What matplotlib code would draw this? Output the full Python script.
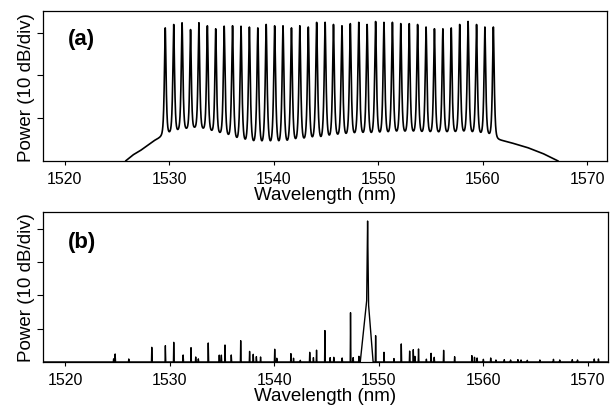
import numpy as np
import matplotlib
matplotlib.use("Agg")
import matplotlib.pyplot as plt

plt.rcParams['font.family'] = ['Liberation Sans', 'DejaVu Sans']

# (a) 40 WDM channels: centre wavelength (nm) and peak power (dB, 10 dB/div)
chan_wl = [1529.60, 1530.41, 1531.21, 1532.02, 1532.82, 1533.63, 1534.43, 1535.24,
           1536.04, 1536.85, 1537.65, 1538.46, 1539.26, 1540.07, 1540.87, 1541.68,
           1542.48, 1543.29, 1544.09, 1544.90, 1545.70, 1546.51, 1547.31, 1548.12,
           1548.92, 1549.73, 1550.53, 1551.34, 1552.14, 1552.95, 1553.75, 1554.56,
           1555.36, 1556.17, 1556.97, 1557.78, 1558.58, 1559.39, 1560.19, 1561.00]
chan_db = [31.1, 31.9, 32.3, 30.7, 32.3, 31.6, 30.9, 31.5, 31.6, 31.5,
           31.3, 31.1, 31.9, 31.6, 31.6, 31.1, 31.6, 31.3, 32.4, 32.4,
           31.9, 31.6, 32.1, 32.4, 31.9, 32.6, 32.4, 32.4, 32.1, 32.1,
           31.9, 31.3, 30.9, 30.9, 31.1, 31.9, 32.6, 31.9, 31.3, 31.3]

# (a) ASE floor under the channels
ase_wl = [1525.8, 1526.5, 1527.2, 1528.5, 1529.5, 1530.4, 1531.2, 1532.4, 1533.6,
          1534.4, 1535.2, 1536.0, 1536.8, 1537.6, 1538.5, 1540.0, 1541.0, 1541.7,
          1542.5, 1543.3, 1544.5, 1546.0, 1548.0, 1550.0, 1552.0, 1555.0, 1558.0,
          1560.5, 1561.3, 1562.5, 1564.2, 1565.7, 1567.2]
ase_db = [0.0, 1.4, 2.4, 4.7, 6.0, 6.4, 7.0, 7.4, 7.0,
          6.3, 5.9, 5.1, 4.3, 4.0, 3.6, 3.6, 3.6, 4.3,
          4.3, 4.7, 4.7, 5.5, 5.9, 5.9, 6.3, 6.3, 6.3,
          5.9, 5.1, 4.4, 3.2, 1.8, 0.0]

# (b) converted signal and the small mixing products
main_wl = 1548.93
main_db = 42.9
pedestal_db = 21.0
spike_wl = [1524.65, 1524.8, 1526.1, 1528.3, 1529.6, 1530.4, 1531.3, 1532.05, 1532.5,
            1532.75, 1533.7, 1534.75, 1534.95, 1535.3, 1535.9, 1536.8, 1537.65, 1538.0,
            1538.3, 1538.7, 1540.05, 1540.25, 1541.6, 1541.85, 1542.5, 1543.4, 1543.75,
            1544.05, 1544.85, 1545.35, 1545.7, 1546.5, 1547.3, 1547.55, 1548.1, 1549.7,
            1550.5, 1551.45, 1552.15, 1552.95, 1553.3, 1553.45, 1553.8, 1554.55, 1555.0,
            1555.3, 1556.2, 1557.25, 1558.9, 1559.15, 1559.4, 1560.0, 1560.7, 1561.2,
            1562.0, 1562.6, 1563.3, 1563.6, 1564.2, 1565.4, 1566.7, 1567.3, 1568.5,
            1569.0, 1570.6, 1571.0]
spike_db = [1.0, 2.4, 0.9, 4.4, 4.9, 5.9, 2.1, 4.6, 1.5,
            1.0, 5.7, 2.2, 2.2, 5.1, 2.1, 6.4, 3.4, 2.3,
            1.6, 1.5, 4.1, 1.2, 2.5, 1.2, 0.5, 2.9, 1.4,
            3.8, 10.1, 1.4, 1.4, 1.2, 14.8, 1.4, 1.7, 7.9,
            2.9, 1.1, 5.8, 3.5, 3.7, 1.8, 3.9, 0.9, 2.6,
            1.4, 3.5, 1.7, 1.9, 1.5, 1.2, 0.8, 1.2, 0.6,
            0.7, 0.6, 0.7, 0.6, 0.5, 0.6, 0.8, 0.6, 0.7,
            0.6, 0.9, 0.9]

xticks = [1520, 1530, 1540, 1550, 1560, 1570]
xlim = (1517.9, 1571.9)


def spectrum_a(x):
    floor = np.interp(x, ase_wl, ase_db, left=-5, right=-5)
    lin = 10 ** (floor / 10)
    w = 0.05
    for c, h in zip(chan_wl, chan_db):
        fl = np.interp(c, ase_wl, ase_db)
        amp = 10 ** (h / 10) - 10 ** (fl / 10)
        lin = lin + amp / (1 + ((x - c) / w) ** 2) ** 2
    return 10 * np.log10(lin)


def spectrum_b(x):
    y = np.zeros_like(x)
    for c, h in zip(spike_wl, spike_db):
        y = np.maximum(y, h * (1 - np.abs(x - c) / 0.03))
    # pedestal of the converted signal, slightly asymmetric
    d = x - main_wl
    ped = np.where(d < 0, pedestal_db * (1 + d / 0.7), pedestal_db * (1 - d / 0.52))
    y = np.maximum(y, ped)
    y = np.maximum(y, main_db * (1 - np.abs(d) / 0.15))
    return y


def style_axis(ax, ymax, yticks, tag):
    ax.set_xlim(*xlim)
    ax.set_ylim(0, ymax)
    ax.set_xticks(xticks)
    ax.set_yticks(yticks)
    ax.set_yticklabels([])
    ax.tick_params(axis='x', direction='out', length=3, width=0.8, labelsize=11.5, pad=4)
    ax.tick_params(axis='y', direction='out', length=4, width=0.8)
    for s in ax.spines.values():
        s.set_linewidth(0.9)
    ax.set_xlabel("Wavelength (nm)", fontsize=13.5, labelpad=0)
    ax.set_ylabel("Power (10 dB/div)", fontsize=13.5, labelpad=-2)
    ax.text(0.044, 0.82 if tag == "(a)" else 0.807, tag, transform=ax.transAxes,
            fontsize=16, fontweight='bold', va='center', ha='left')


fig = plt.figure(figsize=(6.14, 4.06), dpi=100)
ax1 = fig.add_axes([0.070, 0.601, 0.919, 0.369])
ax2 = fig.add_axes([0.070, 0.106, 0.920, 0.369])

x = np.linspace(1517.0, 1573.0, 14001)
ax1.plot(x, spectrum_a(x), color='black', lw=1.2)
style_axis(ax1, 35, [10, 20, 30], "(a)")

ax2.plot(x, spectrum_b(x), color='black', lw=1.0)
style_axis(ax2, 45, [10, 20, 30, 40], "(b)")

plt.savefig("out.png", dpi=100)
